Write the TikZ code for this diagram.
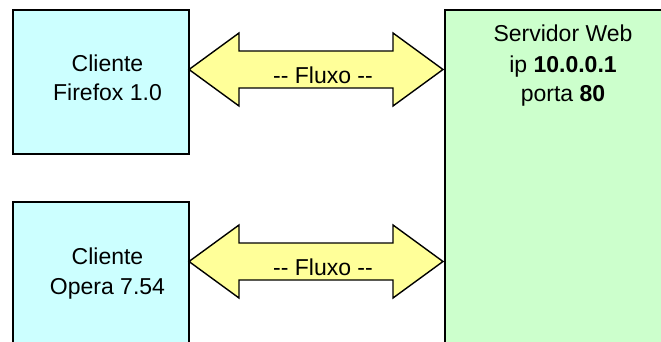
\documentclass[tikz,border=0pt]{standalone}
\usepackage{fontspec}
\setmainfont{Liberation Sans}[Ligatures=TeXOff]
\usetikzlibrary{calc}
\definecolor{clientfill}{HTML}{CCFFFF}
\definecolor{serverfill}{HTML}{CCFFCC}
\definecolor{arrowfill}{HTML}{FFFF99}
\tikzset{
  boxstyle/.style={draw=black, line width=1.8pt, rectangle, anchor=north west, inner sep=0pt},
  clientbox/.style={boxstyle, fill=clientfill, minimum width=176pt, minimum height=144pt},
  serverbox/.style={boxstyle, fill=serverfill, minimum width=240pt, minimum height=350pt},
  txt/.style={anchor=base, inner sep=0pt, font=\fontsize{23}{29}\selectfont},
  flowarrow/.style={draw=black, line width=1.4pt, fill=arrowfill, line join=miter},
}
\newcommand{\flowshape}[2]{%
  \draw[flowarrow] (#1)
    -- ($(#1)+(50,-36.5)$) -- ($(#1)+(50,-18.5)$)
    -- ($(#2)+(-50,-18.5)$) -- ($(#2)+(-50,-36.5)$)
    -- (#2)
    -- ($(#2)+(-50,36.5)$) -- ($(#2)+(-50,18.5)$)
    -- ($(#1)+(50,18.5)$) -- ($(#1)+(50,36.5)$)
    -- cycle;}
\begin{document}
\begin{tikzpicture}[x=1pt,y=-1pt]
\useasboundingbox (0,0) rectangle (661,342);
\clip (0,0) rectangle (661,342);
\fill[white] (0,0) rectangle (661,342);
% boxes
\node[clientbox] (c1) at (12,9) {};
\node[clientbox, minimum height=160pt] (c2) at (12,201) {};
\node[serverbox] (srv) at (444,9) {};
% texts
\node[txt] (c1a) at (107.5,71.7) {Cliente};
\node[txt] (c1b) at (107.5,100.7) {Firefox 1.0};
\node[txt] (c2a) at (107.5,264.3) {Cliente};
\node[txt] (c2b) at (107.5,294.3) {Opera 7.54};
\node[txt] (s1) at (563,41.7) {Servidor Web};
\node[txt] (s2) at (563,72.8) {ip \textbf{10.0.0.1}};
\node[txt] (s3) at (563,101.7) {porta \textbf{80}};
% arrows
\coordinate (a1L) at (189,69.5);
\coordinate (a1R) at (443,69.5);
\coordinate (a2L) at (189,261.5);
\coordinate (a2R) at (443,261.5);
\flowshape{a1L}{a1R}
\flowshape{a2L}{a2R}
\node[txt] (f1) at (323,83.3) {-\mbox{}- Fluxo -\mbox{}-};
\node[txt] (f2) at (323,275) {-\mbox{}- Fluxo -\mbox{}-};
\end{tikzpicture}
\end{document}
